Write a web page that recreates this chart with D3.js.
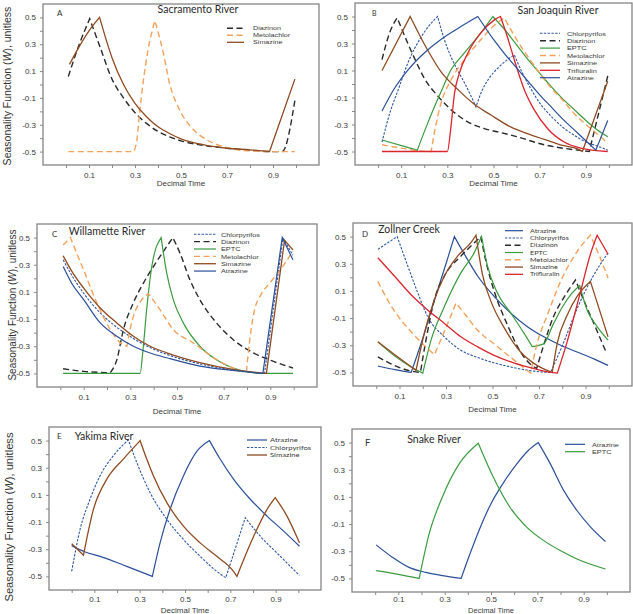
<!DOCTYPE html>
<html><head><meta charset="utf-8">
<script src="https://cdn.jsdelivr.net/npm/d3@7"></script>
<style>body{margin:0;background:#fff} svg{display:block}</style>
</head><body>
<svg id="chart" width="633" height="614"></svg>
<script>
// ---------- data: [decimal time, seasonality W] ----------
const sacDiazinon = [[0.01,0.06],[0.06,0.31],[0.103,0.49],[0.15,0.27],[0.2,0.04],[0.25,-0.1],[0.3,-0.21],[0.35,-0.29],[0.4,-0.35],[0.45,-0.39],[0.5,-0.42],[0.55,-0.44],[0.6,-0.455],[0.7,-0.475],[0.8,-0.49],[0.9,-0.5],[0.94,-0.5],[0.995,-0.12]];
const sacMetolachlor = [[0.01,-0.5],[0.29,-0.5],[0.306,-0.44],[0.32,-0.21],[0.335,0.01],[0.357,0.26],[0.386,0.475],[0.42,0.26],[0.45,0.01],[0.494,-0.19],[0.545,-0.32],[0.61,-0.41],[0.7,-0.47],[0.8,-0.495],[0.9,-0.5],[0.995,-0.5]];
const sacSimazine = [[0.015,0.15],[0.06,0.29],[0.1,0.4],[0.146,0.5],[0.2,0.2],[0.25,0.0],[0.3,-0.14],[0.35,-0.24],[0.4,-0.315],[0.45,-0.365],[0.5,-0.405],[0.6,-0.45],[0.7,-0.475],[0.8,-0.487],[0.885,-0.5],[0.995,0.04]];

const sjChlorpyrifos = [[0.017,-0.43],[0.05,-0.22],[0.09,-0.03],[0.13,0.16],[0.18,0.33],[0.22,0.43],[0.258,0.5],[0.285,0.34],[0.316,0.2],[0.345,0.1],[0.374,0.01],[0.4,-0.08],[0.424,-0.17],[0.45,-0.05],[0.48,0.04],[0.52,0.12],[0.56,0.18],[0.59,0.216],[0.62,0.1],[0.66,-0.03],[0.7,-0.14],[0.75,-0.24],[0.8,-0.32],[0.85,-0.38],[0.9,-0.43],[0.95,-0.46],[0.995,-0.49]];
const sjDiazinon = [[0.017,0.18],[0.05,0.38],[0.083,0.49],[0.129,0.3],[0.158,0.19],[0.201,0.04],[0.259,-0.09],[0.316,-0.19],[0.388,-0.28],[0.46,-0.33],[0.532,-0.36],[0.6,-0.39],[0.72,-0.45],[0.864,-0.49],[0.915,-0.5],[0.995,0.06]];
const sjEPTC = [[0.017,-0.415],[0.17,-0.49],[0.215,-0.29],[0.273,-0.056],[0.316,0.105],[0.374,0.23],[0.446,0.38],[0.497,0.5],[0.55,0.4],[0.6,0.29],[0.65,0.18],[0.7,0.08],[0.75,-0.02],[0.8,-0.11],[0.85,-0.19],[0.9,-0.27],[0.95,-0.34],[0.995,-0.39]];
const sjMetolachlor = [[0.017,-0.45],[0.1,-0.475],[0.176,-0.495],[0.23,-0.5],[0.244,-0.36],[0.273,-0.14],[0.316,0.03],[0.374,0.18],[0.446,0.33],[0.5,0.43],[0.547,0.49],[0.6,0.33],[0.65,0.2],[0.7,0.08],[0.75,-0.03],[0.8,-0.12],[0.85,-0.22],[0.9,-0.3],[0.95,-0.37],[0.995,-0.44]];
const sjSimazine = [[0.017,0.1],[0.139,0.5],[0.215,0.25],[0.273,0.09],[0.345,-0.04],[0.417,-0.15],[0.489,-0.23],[0.576,-0.32],[0.65,-0.37],[0.72,-0.41],[0.8,-0.455],[0.864,-0.48],[0.885,-0.5],[0.995,0.02]];
const sjTrifluralin = [[0.017,-0.5],[0.3,-0.5],[0.316,-0.31],[0.331,-0.07],[0.352,0.08],[0.389,0.23],[0.446,0.38],[0.504,0.475],[0.53,0.5],[0.56,0.35],[0.59,0.18],[0.633,-0.04],[0.676,-0.19],[0.734,-0.33],[0.806,-0.43],[0.878,-0.475],[0.995,-0.5]];
const sjAtrazine = [[0.017,-0.2],[0.072,-0.03],[0.13,0.105],[0.2,0.23],[0.272,0.33],[0.344,0.41],[0.432,0.5],[0.5,0.33],[0.55,0.22],[0.6,0.12],[0.65,0.02],[0.7,-0.08],[0.75,-0.17],[0.8,-0.26],[0.85,-0.34],[0.9,-0.42],[0.943,-0.49],[0.995,-0.27]];

const wilChlorpyrifos = [[0.012,0.336],[0.05,0.22],[0.1,0.09],[0.171,-0.055],[0.242,-0.16],[0.313,-0.243],[0.385,-0.31],[0.456,-0.36],[0.598,-0.43],[0.74,-0.475],[0.875,-0.5],[0.954,0.495],[0.997,0.37]];
const wilDiazinon = [[0.012,-0.466],[0.1,-0.485],[0.214,-0.495],[0.242,-0.4],[0.27,-0.18],[0.313,0.02],[0.356,0.165],[0.399,0.287],[0.456,0.434],[0.482,0.5],[0.513,0.385],[0.555,0.19],[0.598,0.043],[0.669,-0.128],[0.74,-0.25],[0.826,-0.348],[0.911,-0.41],[0.997,-0.46]];
const wilEPTC = [[0.012,-0.5],[0.342,-0.5],[0.353,-0.35],[0.37,-0.03],[0.392,0.287],[0.432,0.5],[0.456,0.238],[0.484,0.043],[0.527,-0.128],[0.598,-0.3],[0.669,-0.4],[0.74,-0.46],[0.811,-0.49],[0.86,-0.5],[0.997,-0.5]];
const wilMetolachlor = [[0.012,0.446],[0.043,0.5],[0.1,0.26],[0.157,0.018],[0.214,-0.177],[0.257,-0.275],[0.285,-0.3],[0.313,-0.08],[0.378,0.087],[0.427,-0.03],[0.484,-0.177],[0.57,-0.275],[0.669,-0.397],[0.74,-0.46],[0.797,-0.495],[0.81,-0.28],[0.83,-0.05],[0.86,0.08],[0.9,0.17],[0.95,0.28],[0.997,0.4]];
const wilSimazine = [[0.012,0.366],[0.05,0.25],[0.1,0.128],[0.171,-0.018],[0.242,-0.128],[0.313,-0.226],[0.385,-0.3],[0.456,-0.348],[0.598,-0.42],[0.74,-0.47],[0.883,-0.5],[0.961,0.48],[0.997,0.41]];
const wilAtrazine = [[0.012,0.287],[0.05,0.16],[0.1,0.043],[0.171,-0.128],[0.242,-0.226],[0.313,-0.3],[0.385,-0.35],[0.456,-0.385],[0.598,-0.446],[0.74,-0.478],[0.868,-0.5],[0.951,0.5],[0.997,0.336]];

const zolAtrazine = [[0.007,-0.453],[0.08,-0.48],[0.15,-0.5],[0.2,-0.25],[0.25,0.03],[0.3,0.3],[0.336,0.5],[0.393,0.33],[0.436,0.21],[0.507,0.06],[0.579,-0.064],[0.65,-0.163],[0.721,-0.238],[0.793,-0.3],[0.864,-0.35],[0.936,-0.4],[0.997,-0.448]];
const zolChlorpyrifos = [[0.007,0.406],[0.09,0.5],[0.136,0.282],[0.179,0.084],[0.221,-0.089],[0.293,-0.238],[0.364,-0.337],[0.436,-0.39],[0.579,-0.46],[0.7,-0.495],[0.75,-0.5],[0.807,-0.275],[0.864,-0.03],[0.93,0.2],[0.997,0.38]];
const zolDiazinon = [[0.007,-0.386],[0.08,-0.45],[0.15,-0.49],[0.19,-0.5],[0.214,-0.26],[0.25,0.035],[0.293,0.21],[0.364,0.356],[0.407,0.43],[0.45,0.5],[0.47,0.33],[0.507,0.1],[0.564,-0.15],[0.621,-0.35],[0.679,-0.46],[0.69,-0.47],[0.72,-0.3],[0.76,-0.1],[0.81,0.06],[0.857,0.18],[0.893,0.03],[0.936,-0.14],[0.986,-0.34]];
const zolEPTC = [[0.007,-0.275],[0.08,-0.38],[0.15,-0.46],[0.2,-0.505],[0.236,-0.26],[0.293,-0.015],[0.364,0.233],[0.421,0.38],[0.453,0.5],[0.479,0.28],[0.521,0.084],[0.579,-0.064],[0.636,-0.213],[0.671,-0.31],[0.72,-0.29],[0.76,-0.15],[0.8,-0.02],[0.84,0.08],[0.875,0.14],[0.907,-0.04],[0.95,-0.163],[0.997,-0.262]];
const zolMetolachlor = [[0.007,0.17],[0.05,0.03],[0.1,-0.1],[0.15,-0.2],[0.2,-0.29],[0.25,-0.37],[0.3,-0.17],[0.343,0.01],[0.39,-0.09],[0.436,-0.19],[0.507,-0.29],[0.579,-0.39],[0.664,-0.505],[0.69,-0.3],[0.736,-0.077],[0.793,0.17],[0.864,0.39],[0.921,0.51],[0.964,0.34],[0.997,0.196]];
const zolSimazine = [[0.007,-0.275],[0.08,-0.37],[0.171,-0.485],[0.207,-0.21],[0.25,0.035],[0.293,0.21],[0.35,0.356],[0.407,0.455],[0.429,0.51],[0.457,0.22],[0.493,0.025],[0.55,-0.17],[0.621,-0.35],[0.693,-0.45],[0.757,-0.5],[0.779,-0.28],[0.821,-0.08],[0.864,0.06],[0.921,0.17],[0.997,-0.238]];
const zolTrifluralin = [[0.007,0.344],[0.079,0.208],[0.15,0.072],[0.221,-0.04],[0.293,-0.139],[0.364,-0.238],[0.436,-0.312],[0.507,-0.374],[0.579,-0.423],[0.65,-0.46],[0.721,-0.49],[0.779,-0.505],[0.821,-0.275],[0.879,0.097],[0.921,0.37],[0.95,0.51],[0.997,0.37]];

const yakAtrazine = [[0.0,-0.273],[0.06,-0.32],[0.125,-0.352],[0.243,-0.426],[0.356,-0.5],[0.39,-0.253],[0.434,-0.006],[0.493,0.24],[0.552,0.42],[0.608,0.5],[0.655,0.364],[0.714,0.216],[0.788,0.068],[0.862,-0.056],[0.935,-0.167],[1.005,-0.278]];
const yakChlorpyrifos = [[0.0,-0.463],[0.037,-0.154],[0.081,0.068],[0.125,0.24],[0.184,0.389],[0.25,0.505],[0.287,0.34],[0.346,0.117],[0.42,-0.08],[0.493,-0.228],[0.567,-0.352],[0.64,-0.463],[0.68,-0.51],[0.766,-0.068],[0.832,-0.204],[0.906,-0.328],[1.005,-0.493]];
const yakSimazine = [[0.0,-0.26],[0.052,-0.344],[0.096,-0.006],[0.155,0.216],[0.228,0.364],[0.302,0.5],[0.33,0.37],[0.361,0.24],[0.42,0.043],[0.493,-0.13],[0.567,-0.253],[0.64,-0.352],[0.714,-0.463],[0.729,-0.5],[0.803,-0.204],[0.862,-0.006],[0.898,0.08],[0.95,-0.056],[1.005,-0.253]];

const snkAtrazine = [[0.004,-0.253],[0.074,-0.344],[0.146,-0.419],[0.219,-0.456],[0.29,-0.48],[0.371,-0.5],[0.407,-0.33],[0.45,-0.14],[0.494,0.03],[0.552,0.2],[0.61,0.34],[0.66,0.44],[0.704,0.5],[0.755,0.347],[0.813,0.15],[0.871,0.0],[0.929,-0.12],[0.994,-0.228]];
const snkEPTC = [[0.004,-0.443],[0.1,-0.47],[0.19,-0.5],[0.233,-0.172],[0.29,0.1],[0.364,0.347],[0.445,0.495],[0.509,0.248],[0.581,0.026],[0.654,-0.122],[0.726,-0.22],[0.799,-0.295],[0.871,-0.357],[0.994,-0.431]];

const xTicks = [0,0.1,0.2,0.3,0.4,0.5,0.6,0.7,0.8,0.9,1.0];
const xTickLabels = [0.1,0.3,0.5,0.7,0.9];
const yTicks = [-0.5,-0.4,-0.3,-0.2,-0.1,0,0.1,0.2,0.3,0.4,0.5];
const yTickLabels = [-0.5,-0.3,-0.1,0.1,0.3,0.5];

// ---------- styles ----------
const styles = {
  Diazinon:{color:'#2a2a2a', dash:'6,3.5', w:1.4},
  Metolachlor:{color:'#f2a25c', dash:'6,3.5', w:1.4},
  Simazine:{color:'#8f4b22', dash:null, w:1.3},
  Chlorpyrifos:{color:'#2f56a3', dash:'2.4,1.4', w:1.1},
  EPTC:{color:'#3b9a3f', dash:null, w:1.2},
  Trifluralin:{color:'#d9262f', dash:null, w:1.3},
  Atrazine:{color:'#2b4f98', dash:null, w:1.2}
};

const ARIAL = 'Liberation Sans, Arial, sans-serif';
const panels = [
  {id:'A', title:'Sacramento River', frame:[43,4,319,165], lab:[57,16,8], tt:[198,13], xl:186, xpad:4, yl:{x:10.5,y:86,s:10.5},
   leg:{x0:227,x1:244,tx:253,y:28.3,dy:7,font:ARIAL,fs:6,sx:1.2},
   series:[['Diazinon',sacDiazinon],['Metolachlor',sacMetolachlor],['Simazine',sacSimazine]]},
  {id:'B', title:'San Joaquin River', frame:[355,3,632,165], lab:[372,16,7], tt:[558,14], xl:186, xpad:4,
   leg:{x0:540,x1:560,tx:567,y:33.3,dy:7.4,font:ARIAL,fs:6.2,sx:1.18},
   series:[['Chlorpyrifos',sjChlorpyrifos],['Diazinon',sjDiazinon],['EPTC',sjEPTC],['Metolachlor',sjMetolachlor],['Simazine',sjSimazine],['Trifluralin',sjTrifluralin],['Atrazine',sjAtrazine]]},
  {id:'C', title:'Willamette River', frame:[37,224,317,387], lab:[52,237,8], tt:[107,235], xl:414, xpad:4, yl:{x:16,y:305,s:10},
   leg:{x0:194,x1:216,tx:221,y:234.3,dy:7.35,font:ARIAL,fs:6.2,sx:1.18},
   series:[['Chlorpyrifos',wilChlorpyrifos],['Diazinon',wilDiazinon],['EPTC',wilEPTC],['Metolachlor',wilMetolachlor],['Simazine',wilSimazine],['Atrazine',wilAtrazine]]},
  {id:'D', title:'Zollner Creek', frame:[353,223,632,386], lab:[362,237,8], tt:[409,233], xl:412, xpad:4,
   leg:{x0:505,x1:523,tx:530,y:230.7,dy:7.27,font:'Lato, sans-serif',fs:5.9,sx:1.22},
   series:[['Atrazine',zolAtrazine],['Chlorpyrifos',zolChlorpyrifos],['Diazinon',zolDiazinon],['EPTC',zolEPTC],['Metolachlor',zolMetolachlor],['Simazine',zolSimazine],['Trifluralin',zolTrifluralin]]},
  {id:'E', title:'Yakima River', frame:[49,427,321,590], lab:[57,439,8], tt:[104,440], xl:613, xpad:3, yl:{x:12.5,y:517,s:11.2},
   leg:{x0:247,x1:267,tx:270,y:440,dy:7.5,font:'Lato, sans-serif',fs:6.1,sx:1.25},
   series:[['Atrazine',yakAtrazine],['Chlorpyrifos',yakChlorpyrifos],['Simazine',yakSimazine]]},
  {id:'F', title:'Snake River', frame:[352,429,630,592], lab:[365,446,9.5], tt:[434,443], xl:613, xpad:1, xfs:7.6,
   leg:{x0:565,x1:585,tx:592,y:444.3,dy:7.4,font:ARIAL,fs:6.2,sx:1.18},
   series:[['Atrazine',snkAtrazine],['EPTC',snkEPTC]]}
];

const svg = d3.select('#chart');
const fmt = d => d.toFixed(1);
const isLab = (arr, d) => arr.some(v => Math.abs(v - d) < 1e-6);

// smooth each monotone stretch, keep peaks/troughs sharp
function seriesPath(data, x, y) {
  const segs = []; let cur = [data[0]];
  for (let i = 1; i < data.length; i++) {
    cur.push(data[i]);
    if (i < data.length - 1) {
      const d1 = data[i][1] - data[i-1][1], d2 = data[i+1][1] - data[i][1];
      if (d1 * d2 < 0) { segs.push(cur); cur = [data[i]]; }
    }
  }
  segs.push(cur);
  const gen = d3.line().x(d => x(d[0])).y(d => y(d[1])).curve(d3.curveMonotoneX);
  return segs.map((s, k) => { const p = gen(s); return k ? 'L' + p.slice(1) : p; }).join('');
}

panels.forEach(p => {
  const [fx0, fy0, fx1, fy1] = p.frame;
  const x = d3.scaleLinear().domain([-0.1, 1.1]).range([fx0, fx1]);
  const y = d3.scaleLinear().domain([-0.6, 0.6]).range([fy1, fy0]);
  const g = svg.append('g');

  const ax = g.append('g').attr('transform', `translate(0,${fy1})`)
    .call(d3.axisBottom(x).tickValues(xTicks).tickSize(3).tickSizeOuter(0).tickPadding(p.xpad)
      .tickFormat(d => isLab(xTickLabels, d) ? fmt(d) : ''));
  const ay = g.append('g').attr('transform', `translate(${fx0},0)`)
    .call(d3.axisLeft(y).tickValues(yTicks).tickSize(3).tickSizeOuter(0).tickPadding(4)
      .tickFormat(d => isLab(yTickLabels, d) ? fmt(d) : ''));
  [ax, ay].forEach(a => {
    a.select('.domain').remove();
    a.selectAll('line').attr('stroke', '#8a8a8a');
    a.selectAll('text').attr('fill', '#3a3a3a').style('font-family', ARIAL).style('font-size', '8px');
  });

  g.append('rect').attr('x', fx0).attr('y', fy0).attr('width', fx1 - fx0).attr('height', fy1 - fy0)
    .attr('fill', 'none').attr('stroke', '#858585').attr('stroke-width', 1.3);

  p.series.forEach(([name, data]) => {
    const s = styles[name];
    g.append('path').attr('d', seriesPath(data, x, y)).attr('fill', 'none')
      .attr('stroke', s.color).attr('stroke-width', s.w)
      .attr('stroke-dasharray', s.dash).attr('stroke-linejoin', 'miter');
  });

  const L = p.leg;
  p.series.forEach(([name], i) => {
    const s = styles[name];
    const yy = L.y + i * L.dy;
    g.append('line').attr('x1', L.x0).attr('x2', L.x1).attr('y1', yy).attr('y2', yy)
      .attr('stroke', s.color).attr('stroke-width', s.w).attr('stroke-dasharray', s.dash);
    g.append('text').attr('transform', `translate(${L.tx},${yy + L.fs * 0.36}) scale(${L.sx},1)`).text(name)
      .attr('fill', '#3a3a3a').style('font-family', L.font).style('font-size', L.fs + 'px');
  });

  g.append('text').attr('x', p.lab[0]).attr('y', p.lab[1]).text(p.id)
    .attr('fill', '#333').style('font-family', 'Lato, sans-serif').style('font-size', p.lab[2] + 'px');
  g.append('text').attr('x', p.tt[0]).attr('y', p.tt[1]).attr('text-anchor', 'middle').text(p.title)
    .attr('fill', '#2a2a2a').style('font-family', 'Lato, sans-serif').style('font-size', '10.5px');

  g.append('text').attr('x', (x(0) + x(1)) / 2).attr('y', p.xl).attr('text-anchor', 'middle').text('Decimal Time')
    .attr('fill', '#3a3a3a').style('font-family', ARIAL).style('font-size', (p.xfs || 8) + 'px');

  if (p.yl) {
    const t = g.append('text').attr('transform', `translate(${p.yl.x},${p.yl.y}) rotate(-90)`)
      .attr('text-anchor', 'middle').attr('fill', '#333')
      .style('font-family', ARIAL).style('font-size', p.yl.s + 'px');
    t.append('tspan').text('Seasonality Function (');
    t.append('tspan').text('W').style('font-style', 'italic');
    t.append('tspan').text('), unitless');
  }
});
</script>
</body></html>
